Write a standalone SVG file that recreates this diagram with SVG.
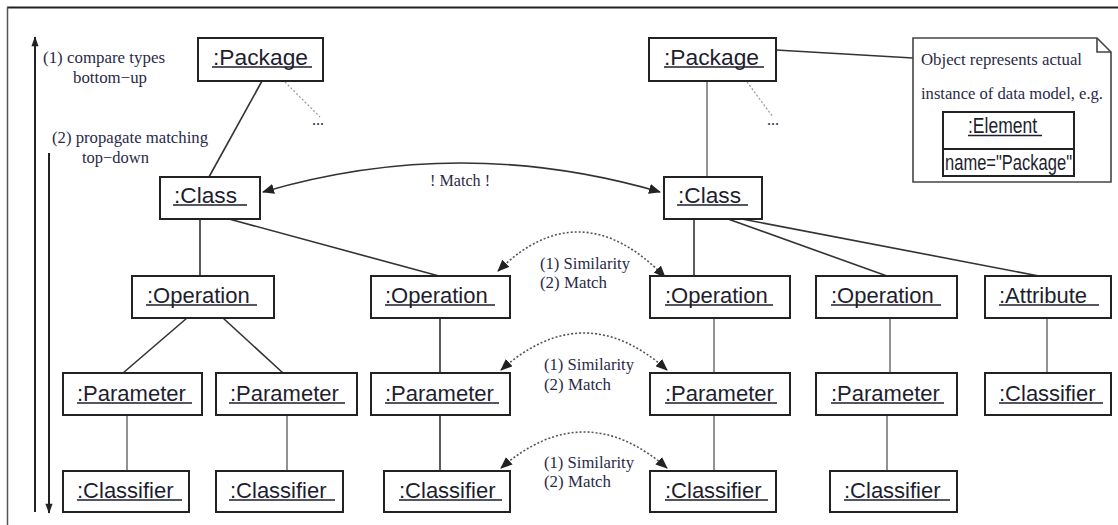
<svg xmlns="http://www.w3.org/2000/svg" width="1118" height="525" viewBox="0 0 1118 525">
<style>
.box{fill:#fff;stroke:#222;stroke-width:2}
.lbl{font-family:"Liberation Sans",Arial,sans-serif;font-size:22px;fill:#1e1e2e}
.ul{stroke:#1e1e2e;stroke-width:1.4}
.ann{font-family:"Liberation Serif","Times New Roman",serif;font-size:16px;fill:#2a2a48}
.ln{stroke:#333;stroke-width:1.6;fill:none}
.lnl{stroke:#777;stroke-width:1.6;fill:none}
.dot{stroke:#999;stroke-width:1.2;stroke-dasharray:2 2;fill:none}
.arr{stroke:#333;stroke-width:1.6;fill:none;marker-start:url(#ah);marker-end:url(#ah)}
.darr{stroke:#555;stroke-width:1.6;stroke-dasharray:2 2;fill:none;marker-start:url(#ah);marker-end:url(#ah)}
.axis{stroke:#222;stroke-width:2;fill:none;marker-end:url(#ah2)}
</style>
<defs>
<marker id="ah" viewBox="0 0 12 10" refX="11" refY="5" markerWidth="12" markerHeight="10" markerUnits="userSpaceOnUse" orient="auto-start-reverse">
<path d="M0,0 L12,5 L0,10 Z" fill="#222"/>
</marker>
<marker id="ah2" viewBox="0 0 10 14" refX="13" refY="5" markerWidth="14" markerHeight="10" markerUnits="userSpaceOnUse" orient="auto">
<path d="M0,0 L14,5 L0,10 Z" fill="#222"/>
</marker>
</defs>
<rect x="0" y="0" width="1118" height="525" fill="#fff"/>
<g id="frame">
<line x1="7" y1="7.5" x2="1118" y2="7.5" stroke="#222" stroke-width="2"/>
<line x1="7.5" y1="7" x2="7.5" y2="525" stroke="#555" stroke-width="1.5"/>
</g>
<g id="legend">
<line class="axis" x1="35" y1="512" x2="35" y2="37"/>
<line class="axis" x1="49" y1="153" x2="49" y2="513"/>
<text class="ann" x="43" y="63" textLength="122" lengthAdjust="spacingAndGlyphs">(1) compare types</text>
<text class="ann" x="73" y="83" textLength="74" lengthAdjust="spacingAndGlyphs">bottom−up</text>
<text class="ann" x="52" y="143" textLength="156" lengthAdjust="spacingAndGlyphs">(2) propagate matching</text>
<text class="ann" x="82" y="163" textLength="67" lengthAdjust="spacingAndGlyphs">top−down</text>
</g>
<g id="connectors">
<line class="ln" x1="262" y1="81" x2="209" y2="177"/>
<path class="dot" d="M285,82 L320,117"/>
<text class="ann" x="312" y="125" font-size="14">...</text>
<line class="lnl" x1="707" y1="81" x2="707" y2="177"/>
<path class="dot" d="M747,82 L773,117"/>
<text class="ann" x="767" y="125" font-size="14">...</text>
<line class="ln" x1="776" y1="50" x2="913" y2="58"/>
<line class="ln" x1="200" y1="219" x2="200" y2="276"/>
<line class="ln" x1="229" y1="219" x2="439" y2="276"/>
<line class="ln" x1="187" y1="318" x2="123" y2="373"/>
<line class="ln" x1="223" y1="318" x2="283" y2="373"/>
<line class="lnl" x1="127" y1="415" x2="127" y2="471"/>
<line class="lnl" x1="287" y1="415" x2="287" y2="471"/>
<line class="ln" x1="440" y1="318" x2="440" y2="373"/>
<line class="ln" x1="440" y1="415" x2="440" y2="471"/>
<line class="ln" x1="694" y1="219" x2="694" y2="276"/>
<line class="ln" x1="728" y1="219" x2="887" y2="276"/>
<line class="ln" x1="742" y1="219" x2="1039" y2="276"/>
<line class="lnl" x1="714" y1="318" x2="714" y2="373"/>
<line class="lnl" x1="714" y1="415" x2="714" y2="471"/>
<line class="lnl" x1="890" y1="318" x2="890" y2="373"/>
<line class="lnl" x1="887" y1="415" x2="887" y2="471"/>
<line class="lnl" x1="1047" y1="318" x2="1047" y2="373"/>
<path class="arr" d="M263,192 Q461,134 660,192"/>
<text class="ann" x="430" y="186" textLength="60" lengthAdjust="spacingAndGlyphs">! Match !</text>
<path class="darr" d="M498,271 Q580,190 665,277"/>
<text class="ann" x="540" y="269" textLength="90" lengthAdjust="spacingAndGlyphs">(1) Similarity</text>
<text class="ann" x="540" y="288" textLength="67" lengthAdjust="spacingAndGlyphs">(2) Match</text>
<path class="darr" d="M501,370 Q584,296 667,370"/>
<text class="ann" x="544" y="370" textLength="90" lengthAdjust="spacingAndGlyphs">(1) Similarity</text>
<text class="ann" x="544" y="390" textLength="67" lengthAdjust="spacingAndGlyphs">(2) Match</text>
<path class="darr" d="M501,468 Q584,396 667,468"/>
<text class="ann" x="544" y="468" textLength="90" lengthAdjust="spacingAndGlyphs">(1) Similarity</text>
<text class="ann" x="544" y="487" textLength="67" lengthAdjust="spacingAndGlyphs">(2) Match</text>
</g>
<g id="note">
<path d="M913,38 L1097,38 L1111,52 L1111,182 L913,182 Z" fill="#fff" stroke="#444" stroke-width="1.6"/>
<path d="M1097,38 L1097,52 L1111,52" fill="none" stroke="#444" stroke-width="1.6"/>
<text class="ann" x="921" y="65" textLength="161" lengthAdjust="spacingAndGlyphs">Object represents actual</text>
<text class="ann" x="921" y="99" textLength="182" lengthAdjust="spacingAndGlyphs">instance of data model, e.g.</text>
<rect class="box" x="943" y="112" width="131" height="64"/>
<line x1="943" y1="149" x2="1074" y2="149" stroke="#222" stroke-width="2"/>
<text class="lbl" x="968" y="133" font-size="16" textLength="69" lengthAdjust="spacingAndGlyphs">:Element</text>
<line class="ul" x1="968" y1="135.5" x2="1042" y2="135.5"/>
<text class="lbl" x="945" y="170" font-size="16" textLength="127" lengthAdjust="spacingAndGlyphs">name="Package"</text>
</g>
<g id="pkgL"><rect class="box" x="198" y="38" width="125" height="43"/><text class="lbl" x="213" y="65" textLength="95" lengthAdjust="spacingAndGlyphs">:Package</text><line class="ul" x1="212" y1="67" x2="312" y2="67"/></g>
<g id="pkgR"><rect class="box" x="649" y="38" width="127" height="43"/><text class="lbl" x="664" y="65" textLength="95" lengthAdjust="spacingAndGlyphs">:Package</text><line class="ul" x1="664" y1="67" x2="764" y2="67"/></g>
<g id="classL"><rect class="box" x="160" y="177" width="100" height="42"/><text class="lbl" x="174" y="203" textLength="63" lengthAdjust="spacingAndGlyphs">:Class</text><line class="ul" x1="173" y1="205" x2="247" y2="205"/></g>
<g id="classR"><rect class="box" x="664" y="177" width="98" height="42"/><text class="lbl" x="678" y="203" textLength="63" lengthAdjust="spacingAndGlyphs">:Class</text><line class="ul" x1="677" y1="205" x2="748" y2="205"/></g>
<g id="op1"><rect class="box" x="132" y="276" width="142" height="42"/><text class="lbl" x="147" y="303">:Operation</text><line class="ul" x1="146" y1="305" x2="257" y2="305"/></g>
<g id="op2"><rect class="box" x="371" y="276" width="139" height="42"/><text class="lbl" x="385" y="303">:Operation</text><line class="ul" x1="385" y1="305" x2="495" y2="305"/></g>
<g id="op3"><rect class="box" x="650" y="276" width="140" height="42"/><text class="lbl" x="665" y="303">:Operation</text><line class="ul" x1="665" y1="305" x2="773" y2="305"/></g>
<g id="op4"><rect class="box" x="816" y="276" width="141" height="42"/><text class="lbl" x="831" y="303">:Operation</text><line class="ul" x1="831" y1="305" x2="941" y2="305"/></g>
<g id="attr"><rect class="box" x="985" y="276" width="126" height="42"/><text class="lbl" x="999" y="303">:Attribute</text><line class="ul" x1="999" y1="305" x2="1099" y2="305"/></g>
<g id="p1"><rect class="box" x="63" y="373" width="139" height="42"/><text class="lbl" x="77" y="401">:Parameter</text><line class="ul" x1="77" y1="403" x2="192" y2="403"/></g>
<g id="p2"><rect class="box" x="216" y="373" width="141" height="42"/><text class="lbl" x="230" y="401">:Parameter</text><line class="ul" x1="229" y1="403" x2="345" y2="403"/></g>
<g id="p3"><rect class="box" x="371" y="373" width="139" height="42"/><text class="lbl" x="385" y="401">:Parameter</text><line class="ul" x1="385" y1="403" x2="499" y2="403"/></g>
<g id="p4"><rect class="box" x="650" y="373" width="140" height="42"/><text class="lbl" x="665" y="401">:Parameter</text><line class="ul" x1="665" y1="403" x2="777" y2="403"/></g>
<g id="p5"><rect class="box" x="816" y="373" width="141" height="42"/><text class="lbl" x="831" y="401">:Parameter</text><line class="ul" x1="831" y1="403" x2="944" y2="403"/></g>
<g id="cattr"><rect class="box" x="985" y="373" width="126" height="42"/><text class="lbl" x="999" y="401">:Classifier</text><line class="ul" x1="999" y1="403" x2="1103" y2="403"/></g>
<g id="c1"><rect class="box" x="63" y="471" width="126" height="41"/><text class="lbl" x="77" y="498">:Classifier</text><line class="ul" x1="77" y1="500" x2="182" y2="500"/></g>
<g id="c2"><rect class="box" x="216" y="471" width="127" height="41"/><text class="lbl" x="230" y="498">:Classifier</text><line class="ul" x1="229" y1="500" x2="335" y2="500"/></g>
<g id="c3"><rect class="box" x="384" y="471" width="126" height="41"/><text class="lbl" x="399" y="498">:Classifier</text><line class="ul" x1="399" y1="500" x2="502" y2="500"/></g>
<g id="c4"><rect class="box" x="650" y="471" width="126" height="41"/><text class="lbl" x="665" y="498">:Classifier</text><line class="ul" x1="665" y1="500" x2="768" y2="500"/></g>
<g id="c5"><rect class="box" x="830" y="471" width="127" height="41"/><text class="lbl" x="844" y="498">:Classifier</text><line class="ul" x1="844" y1="500" x2="950" y2="500"/></g>
</svg>
